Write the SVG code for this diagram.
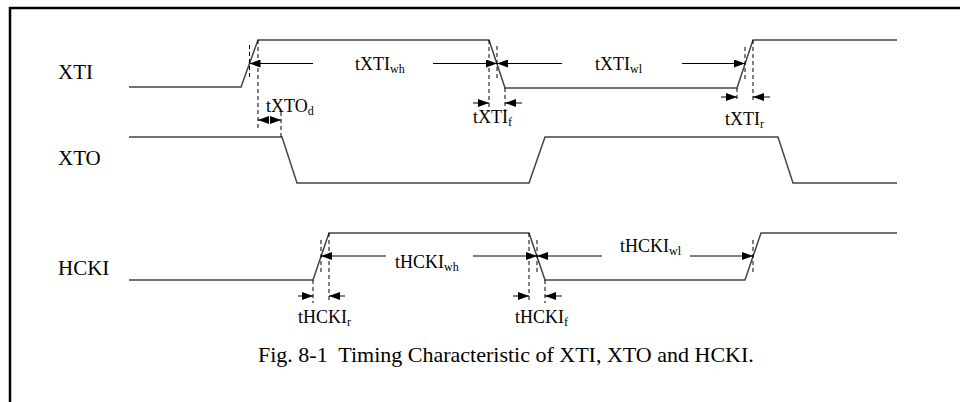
<svg xmlns="http://www.w3.org/2000/svg" width="960" height="402" viewBox="0 0 960 402">
<style>
.sig{fill:none;stroke:#444;stroke-width:1.5}
.dash{fill:none;stroke:#000;stroke-width:1;stroke-dasharray:4,3}
.arr{fill:none;stroke:#000;stroke-width:1;marker-end:url(#ah)}
.lbl{font-family:"Liberation Serif","Times New Roman",serif;font-size:21px;fill:#000}
.tl{font-family:"Liberation Serif","Times New Roman",serif;font-size:18px;fill:#000}
.sub{font-size:12px}
.cap{font-family:"Liberation Serif","Times New Roman",serif;font-size:22px;fill:#000}
</style>
<defs>
<marker id="ah" viewBox="0 0 11 8" refX="11" refY="4" markerWidth="11" markerHeight="8" orient="auto" markerUnits="userSpaceOnUse"><path d="M0,0 L11,4 L0,8 z" fill="#000"/></marker>
</defs>
<rect width="960" height="402" fill="#fff"/>
<path d="M10,402 V8 H960" fill="none" stroke="#000" stroke-width="2.5"/>

<g id="XTI">
<text class="lbl" x="58" y="79">XTI</text>
<path class="sig" d="M129,87 H241 L258,40 H489 L505,88 H737 L753,40 H897"/>
</g>
<g id="XTO">
<text class="lbl" x="58" y="165">XTO</text>
<path class="sig" d="M129,137 H282 L297,183 H529 L545,137 H778 L793,183 H897"/>
</g>
<g id="HCKI">
<text class="lbl" x="58" y="275">HCKI</text>
<path class="sig" d="M129,280 H313 L329,233 H529 L545,280 H745 L761,233 H897"/>
</g>

<g id="connectors">
<path class="dash" d="M249.5,45 V80 M258,40 V128 M281,112 V137"/>
<path class="dash" d="M489,40 V112 M497,46 V80 M505,88 V112"/>
<path class="dash" d="M737,88 V102 M745,47 V80 M753,40 V102"/>
<path class="dash" d="M313,280 V303 M321,240 V272 M329,233 V303"/>
<path class="dash" d="M529,233 V303 M537,240 V272 M545,280 V303"/>
<path class="dash" d="M753,240 V272"/>
<line class="arr" x1="313" y1="63.5" x2="249.5" y2="63.5"/>
<line class="arr" x1="433" y1="63.5" x2="497" y2="63.5"/>
<line class="arr" x1="562" y1="63.5" x2="497" y2="63.5"/>
<line class="arr" x1="682" y1="63.5" x2="745" y2="63.5"/>
<line class="arr" x1="269" y1="120" x2="258" y2="120"/>
<line class="arr" x1="270" y1="120" x2="281" y2="120"/>
<line class="arr" x1="473" y1="103" x2="489" y2="103"/>
<line class="arr" x1="522" y1="103" x2="505" y2="103"/>
<line class="arr" x1="721" y1="97" x2="737" y2="97"/>
<line class="arr" x1="770" y1="97" x2="753" y2="97"/>
<line class="arr" x1="386" y1="256" x2="321" y2="256"/>
<line class="arr" x1="473" y1="256" x2="537" y2="256"/>
<line class="arr" x1="602" y1="256" x2="537" y2="256"/>
<line class="arr" x1="690" y1="256" x2="753" y2="256"/>
<line class="arr" x1="298" y1="296" x2="313" y2="296"/>
<line class="arr" x1="345" y1="296" x2="329" y2="296"/>
<line class="arr" x1="513" y1="296" x2="529" y2="296"/>
<line class="arr" x1="562" y1="296" x2="545" y2="296"/>
</g>

<g id="labels">
<text class="tl" x="355" y="70">tXTI<tspan class="sub" dy="3">wh</tspan></text>
<text class="tl" x="595" y="70">tXTI<tspan class="sub" dy="3">wl</tspan></text>
<text class="tl" x="266" y="112">tXTO<tspan class="sub" dy="3">d</tspan></text>
<text class="tl" x="473" y="123">tXTI<tspan class="sub" dy="3">f</tspan></text>
<text class="tl" x="725" y="125">tXTI<tspan class="sub" dy="3">r</tspan></text>
<text class="tl" x="395" y="268">tHCKI<tspan class="sub" dy="3">wh</tspan></text>
<text class="tl" x="620" y="252">tHCKI<tspan class="sub" dy="3">wl</tspan></text>
<text class="tl" x="298" y="323">tHCKI<tspan class="sub" dy="3">r</tspan></text>
<text class="tl" x="515" y="323">tHCKI<tspan class="sub" dy="3">f</tspan></text>
<text class="cap" x="258" y="362" xml:space="preserve">Fig. 8-1  Timing Characteristic of XTI, XTO and HCKI.</text>
</g>
</svg>
